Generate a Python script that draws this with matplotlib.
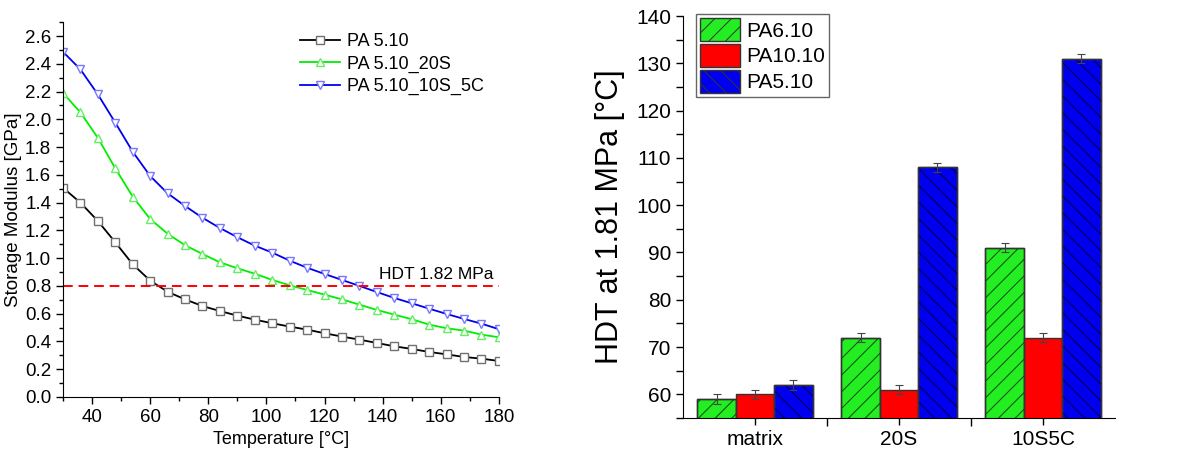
import matplotlib.pyplot as plt
from matplotlib.patches import Patch
from matplotlib.ticker import MultipleLocator, FixedLocator
import numpy as np

plt.rcParams['font.family'] = ['Liberation Sans', 'DejaVu Sans']
plt.rcParams['hatch.linewidth'] = 0.7

# ---------- storage modulus data ----------
temp = [30, 36, 42, 48, 54, 60, 66, 72, 78, 84, 90, 96, 102, 108, 114,
        120, 126, 132, 138, 144, 150, 156, 162, 168, 174, 180]
pa510 = [1.507, 1.40, 1.268, 1.114, 0.956, 0.838, 0.758, 0.703, 0.655, 0.619,
         0.586, 0.557, 0.531, 0.507, 0.485, 0.459, 0.435, 0.413, 0.389, 0.365,
         0.346, 0.324, 0.307, 0.288, 0.276, 0.259]
pa510_20s = [2.19, 2.05, 1.867, 1.647, 1.443, 1.282, 1.176, 1.093, 1.03, 0.970,
             0.927, 0.888, 0.843, 0.804, 0.771, 0.737, 0.703, 0.665, 0.627, 0.593,
             0.560, 0.521, 0.495, 0.478, 0.449, 0.430]
pa510_10s5c = [2.487, 2.36, 2.18, 1.976, 1.767, 1.592, 1.467, 1.376, 1.291, 1.217,
               1.151, 1.09, 1.04, 0.982, 0.931, 0.886, 0.843, 0.80, 0.756, 0.713,
               0.675, 0.636, 0.598, 0.562, 0.528, 0.488]
hdt_level = 0.8

# ---------- HDT bar data ----------
groups = ['matrix', '20S', '10S5C']
hdt_pa610 = [59, 72, 91]
hdt_pa1010 = [60, 61, 72]
hdt_pa510 = [62, 108, 131]
err_pa610 = [1, 1, 1]
err_pa1010 = [1, 1, 1]
err_pa510 = [1, 1, 1]

fig = plt.figure(figsize=(11.97, 4.72), dpi=100)

# ========== left: storage modulus ==========
ax1 = fig.add_axes([0.0526, 0.159, 0.3642, 0.794])
ax1.plot(temp, pa510, '-s', color='black', lw=1.3, ms=5.5,
         mfc='white', mec='#707070', mew=1.0, label='PA 5.10')
ax1.plot(temp, pa510_20s, '-^', color='#00ee00', lw=1.3, ms=6,
         mfc='white', mec='#66ee66', mew=1.0, label='PA 5.10_20S')
ax1.plot(temp, pa510_10s5c, '-v', color='#0000ee', lw=1.3, ms=6,
         mfc='white', mec='#7777ff', mew=1.0, label='PA 5.10_10S_5C')
ax1.axhline(hdt_level, color='red', ls=(0, (5, 3)), lw=1.4)
ax1.text(178, hdt_level + 0.03, 'HDT 1.82 MPa', ha='right', va='bottom', fontsize=12.5)

ax1.set_xlim(30, 180)
ax1.set_ylim(0, 2.7)
ax1.xaxis.set_major_locator(MultipleLocator(20))
ax1.xaxis.set_minor_locator(MultipleLocator(10))
ax1.yaxis.set_major_locator(FixedLocator(np.arange(0, 2.61, 0.2)))
ax1.yaxis.set_minor_locator(MultipleLocator(0.1))
ax1.yaxis.set_major_formatter(plt.FuncFormatter(lambda v, p: f'{v:.1f}'))
ax1.tick_params(labelsize=13.5, direction='out', length=5, width=1)
ax1.tick_params(which='minor', direction='out', length=3, width=1)
ax1.spines['top'].set_visible(False)
ax1.spines['right'].set_visible(False)
ax1.set_xlabel('Temperature [°C]', fontsize=13)
ax1.set_ylabel('Storage Modulus [GPa]', fontsize=13.5, labelpad=2)
ax1.legend(loc='upper left', bbox_to_anchor=(0.52, 1.0), frameon=False,
           fontsize=13, handlelength=2.2, borderaxespad=0.2, labelspacing=0.3,
           handletextpad=0.4)

# ========== right: HDT bars ==========
ax2 = fig.add_axes([0.5706, 0.1144, 0.3609, 0.8516])
x = np.arange(len(groups))
w = 0.267
series = [
    (hdt_pa610, err_pa610, '#22ee22', '#114411', '//', 'PA6.10'),
    (hdt_pa1010, err_pa1010, '#ff0000', None, None, 'PA10.10'),
    (hdt_pa510, err_pa510, '#0000ee', '#000044', '\\\\', 'PA5.10'),
]
handles = []
for i, (vals, errs, fc, hc, hatch, lab) in enumerate(series):
    pos = x + (i - 1) * w
    ax2.bar(pos, vals, w, color=fc, edgecolor='#333333', lw=1.0, zorder=2)
    if hatch:
        ax2.bar(pos, vals, w, color='none', edgecolor=hc, hatch=hatch, lw=0, zorder=3)
        ax2.bar(pos, vals, w, color='none', edgecolor='#333333', lw=1.0, zorder=4)
    ax2.errorbar(pos, vals, yerr=errs, fmt='none', ecolor='#444444',
                 elinewidth=0.8, capsize=3, capthick=0.8, zorder=5)
    handles.append(Patch(facecolor=fc, edgecolor='#333333',
                         hatch=hatch, label=lab))

ax2.set_xlim(-0.5, 2.5)
ax2.set_ylim(55, 140)
ax2.set_xticks(x)
ax2.set_xticklabels(groups)
ax2.xaxis.set_minor_locator(FixedLocator([0.5, 1.5]))
ax2.yaxis.set_major_locator(MultipleLocator(10))
ax2.yaxis.set_minor_locator(MultipleLocator(5))
ax2.tick_params(labelsize=15, direction='out', length=5, width=1)
ax2.tick_params(which='minor', direction='out', length=5, width=1)
ax2.tick_params(axis='x', which='minor', length=6)
ax2.spines['top'].set_visible(False)
ax2.spines['right'].set_visible(False)
ax2.set_ylabel('HDT at 1.81 MPa [°C]', fontsize=22, labelpad=8)
ax2.legend(handles=handles, loc='upper left', bbox_to_anchor=(0.03, 1.005),
           fontsize=15, handlelength=1.9, handleheight=1.3, handletextpad=0.3,
           labelspacing=0.15, borderpad=0.2, borderaxespad=0, fancybox=False,
           edgecolor='#666666', framealpha=1)

fig.savefig('out.png', dpi=100)
